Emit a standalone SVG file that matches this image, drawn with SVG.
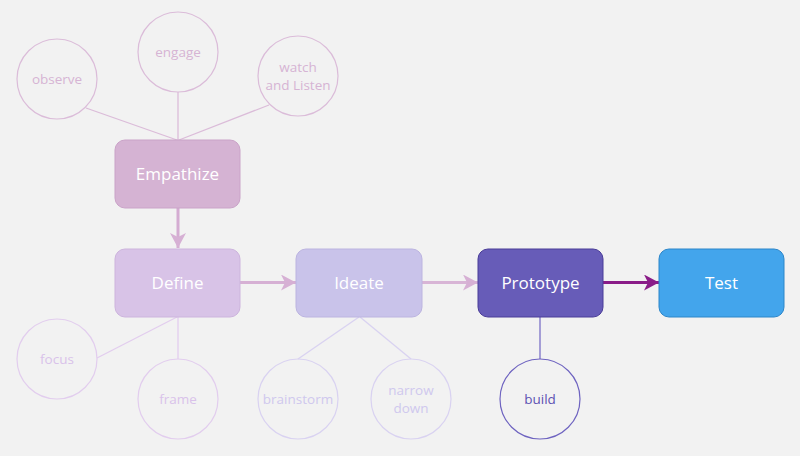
<svg xmlns="http://www.w3.org/2000/svg" width="800" height="456" viewBox="0 0 800 456">
<defs>
<marker id="ahPink" markerUnits="userSpaceOnUse" markerWidth="16" markerHeight="18" refX="15" refY="8" orient="auto"><path d="M0,0 L15,8 L0,16 L4,8 Z" fill="#d6b0d4"/></marker>
<marker id="ahPurple" markerUnits="userSpaceOnUse" markerWidth="16" markerHeight="18" refX="15" refY="8" orient="auto"><path d="M0,0 L15,8 L0,16 L4,8 Z" fill="#8a1c88"/></marker>
</defs>
<style>
text{font-family:"Open Sans","Noto Sans","Liberation Sans",sans-serif;text-anchor:middle}
.box{stroke-width:1}
.lbl{fill:#ffffff;font-size:17px}
.sm{font-size:13.5px}
circle{fill:none;stroke-width:1.2}
.c1{stroke:#dbbcd9}
.t1{fill:#d6b4d4}
.c2{stroke:#e2cdee}
.t2{fill:#d9c2ea}
.c3{stroke:#d9d2f1}
.t3{fill:#cfc8ee}
.c4{stroke:#6e63c0}
.t4{fill:#5d51b3}
.ln1{stroke:#dbbcd9;stroke-width:1.3}
.ln2{stroke:#e2cdee;stroke-width:1.3}
.ln3{stroke:#d9d2f1;stroke-width:1.3}
.ln4{stroke:#7a70c6;stroke-width:1.3}
</style>
<rect width="800" height="456" fill="#f2f2f2"/>
<g id="connectors">
<line class="ln1" x1="86" y1="108" x2="177" y2="140"/>
<line class="ln1" x1="178" y1="92" x2="178" y2="140"/>
<line class="ln1" x1="269" y1="105" x2="179" y2="140"/>
<line class="ln2" x1="177" y1="317" x2="97" y2="358"/>
<line class="ln2" x1="178" y1="317" x2="178" y2="359"/>
<line class="ln3" x1="359" y1="317" x2="298" y2="359"/>
<line class="ln3" x1="360" y1="317" x2="411" y2="359"/>
<line class="ln4" x1="540" y1="317" x2="540" y2="359"/>
<line x1="178" y1="208" x2="178" y2="248" stroke="#d4acd2" stroke-width="3" marker-end="url(#ahPink)"/>
<line x1="240" y1="282.5" x2="296" y2="282.5" stroke="#d6b0d4" stroke-width="3" marker-end="url(#ahPink)"/>
<line x1="422" y1="282.5" x2="478" y2="282.5" stroke="#d8b5d6" stroke-width="3" marker-end="url(#ahPink)"/>
<line x1="603" y1="282.5" x2="659" y2="282.5" stroke="#8a1c88" stroke-width="3" marker-end="url(#ahPurple)"/>
</g>
<g id="empathize"><rect class="box" x="115" y="140" width="125" height="68" rx="10" fill="#d5b3d3" stroke="#caa3c8"/><text class="lbl" x="177.5" y="180">Empathize</text></g>
<g id="define"><rect class="box" x="115" y="249" width="125" height="68" rx="10" fill="#d8c3e7" stroke="#cdb4dd"/><text class="lbl" x="177.5" y="289">Define</text></g>
<g id="ideate"><rect class="box" x="296" y="249" width="126" height="68" rx="10" fill="#c9c3ea" stroke="#bcb4e0"/><text class="lbl" x="359" y="289">Ideate</text></g>
<g id="prototype"><rect class="box" x="478" y="249" width="125" height="68" rx="10" fill="#675cb8" stroke="#4a3c98"/><text class="lbl" x="540.5" y="289">Prototype</text></g>
<g id="test"><rect class="box" x="659" y="249" width="125" height="68" rx="10" fill="#43a5ec" stroke="#2d86c9"/><text class="lbl" x="721.5" y="289">Test</text></g>
<g id="observe"><circle class="c1" cx="57" cy="79" r="40"/><text class="sm t1" x="57" y="84">observe</text></g>
<g id="engage"><circle class="c1" cx="178" cy="52" r="40"/><text class="sm t1" x="178" y="57">engage</text></g>
<g id="watch"><circle class="c1" cx="298" cy="76" r="40"/><text class="sm t1" x="298" y="72">watch</text><text class="sm t1" x="298" y="90">and Listen</text></g>
<g id="focus"><circle class="c2" cx="57" cy="359" r="40"/><text class="sm t2" x="57" y="364">focus</text></g>
<g id="frame"><circle class="c2" cx="178" cy="399" r="40"/><text class="sm t2" x="178" y="404">frame</text></g>
<g id="brainstorm"><circle class="c3" cx="298" cy="399" r="40"/><text class="sm t3" x="298" y="404">brainstorm</text></g>
<g id="narrow"><circle class="c3" cx="411" cy="399" r="40"/><text class="sm t3" x="411" y="395">narrow</text><text class="sm t3" x="411" y="413">down</text></g>
<g id="build"><circle class="c4" cx="540" cy="399" r="40"/><text class="sm t4" x="540" y="404">build</text></g>
</svg>
